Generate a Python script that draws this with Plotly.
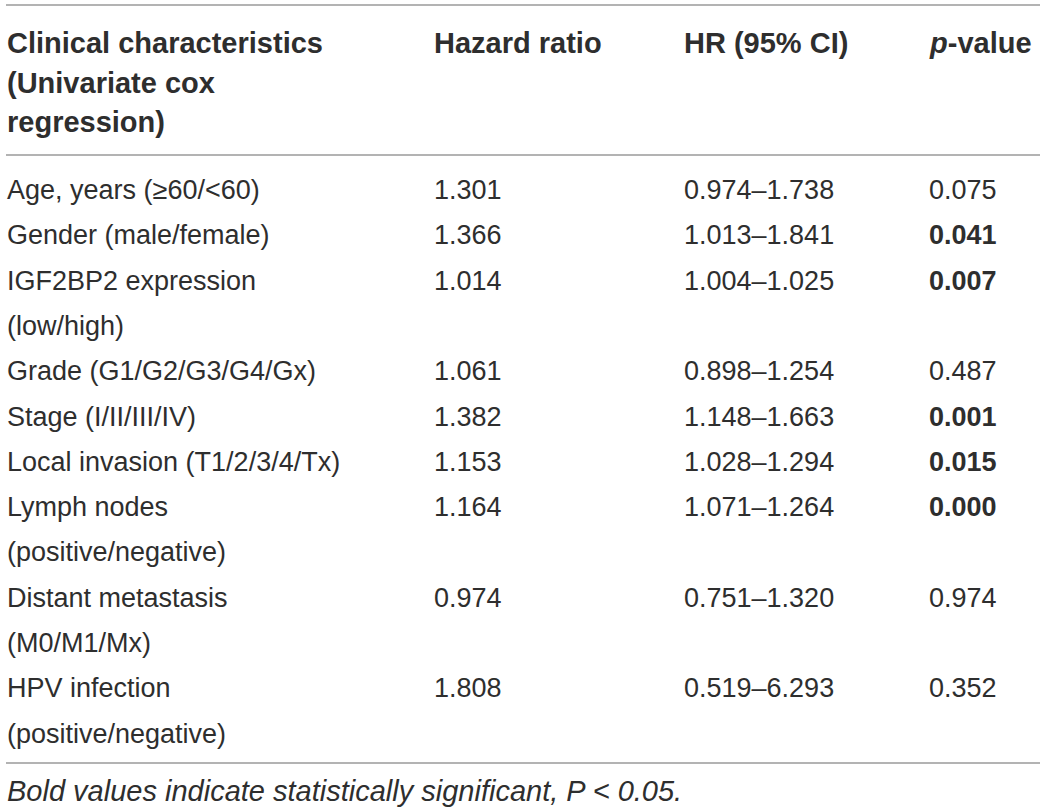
import plotly.graph_objects as go

# table contents
headers = ["Clinical characteristics<br>(Univariate cox<br>regression)",
           "Hazard ratio", "HR (95% CI)", "<i>p</i>-value"]
characteristics = ["Age, years (≥60/&lt;60)",
                   "Gender (male/female)",
                   "IGF2BP2 expression<br>(low/high)",
                   "Grade (G1/G2/G3/G4/Gx)",
                   "Stage (I/II/III/IV)",
                   "Local invasion (T1/2/3/4/Tx)",
                   "Lymph nodes<br>(positive/negative)",
                   "Distant metastasis<br>(M0/M1/Mx)",
                   "HPV infection<br>(positive/negative)"]
hazard_ratio = [1.301, 1.366, 1.014, 1.061, 1.382, 1.153, 1.164, 0.974, 1.808]
ci_low = [0.974, 1.013, 1.004, 0.898, 1.148, 1.028, 1.071, 0.751, 0.519]
ci_high = [1.738, 1.841, 1.025, 1.254, 1.663, 1.294, 1.264, 1.320, 6.293]
p_values = [0.075, 0.041, 0.007, 0.487, 0.001, 0.015, 0.000, 0.974, 0.352]
footnote = "Bold values indicate statistically significant, P &lt; 0.05."

# layout of the table (pixel units on hidden axes)
col_x = [7, 434, 684, 929]
head_y0, head_step = 43, 39.5
row_y0, row_step = 190, 45.3
rules_y = [5, 155, 763]
foot_y = 791

FONT = "Liberation Sans"
TXT = "#2e2e2e"

fig = go.Figure()
# invisible trace so the axes exist
fig.add_trace(go.Scatter(x=[0, 1040], y=[0, 812], mode="markers",
                         marker=dict(opacity=0), hoverinfo="skip", showlegend=False))

ann = []

def add_text(x, y, txt, size=27, bold=False, italic=False):
    if bold:
        txt = "<b>" + txt + "</b>"
    if italic:
        txt = "<i>" + txt + "</i>"
    ann.append(dict(x=x, y=y, xref="x", yref="y", text=txt, showarrow=False,
                    xanchor="left", yanchor="middle", borderpad=0, borderwidth=0,
                    font=dict(family=FONT, size=size, color=TXT)))

# header
for c, h in enumerate(headers):
    for k, line in enumerate(h.split("<br>")):
        add_text(col_x[c], head_y0 + k * head_step, line, size=29, bold=True)

# body
line_no = 0
for i, name in enumerate(characteristics):
    y = row_y0 + line_no * row_step
    parts = name.split("<br>")
    for k, line in enumerate(parts):
        add_text(col_x[0], y + k * row_step, line)
    add_text(col_x[1], y, f"{hazard_ratio[i]:.3f}")
    add_text(col_x[2], y, f"{ci_low[i]:.3f}–{ci_high[i]:.3f}")
    add_text(col_x[3], y, f"{p_values[i]:.3f}", bold=p_values[i] < 0.05)
    line_no += len(parts)

add_text(col_x[0], foot_y, footnote, size=29, italic=True)

shapes = [dict(type="line", xref="x", yref="y", x0=6, x1=1040, y0=yy, y1=yy,
               line=dict(color="#9a9a9a", width=1.5)) for yy in rules_y]

fig.update_layout(
    width=1040, height=812,
    margin=dict(l=0, r=0, t=0, b=0),
    paper_bgcolor="white", plot_bgcolor="white",
    xaxis=dict(range=[0, 1040], visible=False, fixedrange=True),
    yaxis=dict(range=[812, 0], visible=False, fixedrange=True),
    annotations=ann, shapes=shapes, showlegend=False,
)

# drop the default page margin so the figure sits at the window's corner
fig.write_html("out.html", config={"displayModeBar": False},
               post_script="document.body.style.margin='0';")
